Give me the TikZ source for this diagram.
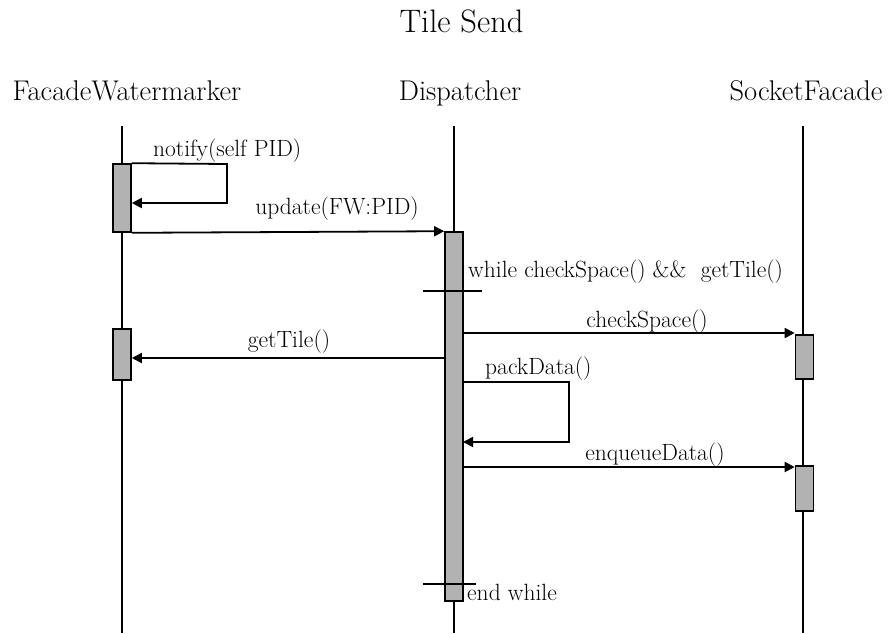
\documentclass[tikz,border=0pt]{standalone}
\usetikzlibrary{arrows.meta}
\begin{document}
\begin{tikzpicture}[x=1pt,y=-1pt,
  titletext/.style={font=\fontsize{32.5}{35}\selectfont, anchor=base, inner sep=0pt},
  head/.style={font=\fontsize{28.5}{31}\selectfont, anchor=base, inner sep=0pt},
  msg/.style={font=\fontsize{23.5}{26}\selectfont, anchor=base, inner sep=0pt},
  life/.style={line width=1.5pt},
  act/.style={draw, line width=1.6pt, fill=gray!60, minimum width=18pt, inner sep=0pt},
  call/.style={line width=1.8pt, -{Triangle[length=10pt,width=10pt]}},
  guard/.style={line width=1.4pt}]
\useasboundingbox (0,0) rectangle (889,633);

% title and participants
\node[titletext] (title) at (461.5,32) {Tile Send};
\node[head] (fw) at (127,100) {FacadeWatermarker};
\node[head] (dp) at (460,100) {Dispatcher};
\node[head] (sf) at (806,100) {SocketFacade};

% lifelines
\coordinate (fwtop) at (122,126);  \coordinate (fwbot) at (122,633);
\coordinate (dptop) at (454,126);  \coordinate (dpbot) at (454,633);
\coordinate (sftop) at (803,126);  \coordinate (sfbot) at (803,633);
\draw[life] (fwtop) -- (fwbot);
\draw[life] (dptop) -- (dpbot);
\draw[life] (sftop) -- (sfbot);

% activation bars
\node[act, minimum height=68pt]  (fwa) at (122,198) {};
\node[act, minimum height=51pt]  (fwb) at (122,354.5) {};
\node[act, minimum height=369pt] (dpa) at (454,416.5) {};
\node[act, minimum height=44pt]  (sfa) at (804.5,357) {};
\node[act, minimum height=45pt]  (sfb) at (804.5,488.5) {};

% notify(self PID)
\coordinate (n1) at (227,164);
\coordinate (n2) at (227,203);
\draw[call] (fwa.north east) -- (n1) -- (n2) -- (fwa.east |- n2);
\node[msg, anchor=base west] (lnotify) at (153,156) {notify(self PID)};

% update(FW:PID)
\draw[call] (fwa.south east) -- (dpa.north west);
\node[msg] (lupdate) at (337,214) {update(FW:PID)};

% loop guard
\coordinate (w1) at (423,291);
\coordinate (w2) at (482,291);
\draw[guard] (w1) -- (w2);
\node[msg, anchor=base west] (lwhile) at (468,277) {while checkSpace() \&\&~ getTile()};

% checkSpace()
\coordinate (c1) at (463,333);
\draw[call] (c1) -- (sfa.west |- c1);
\node[msg] (lcheck) at (647,327) {checkSpace()};

% getTile()
\coordinate (g1) at (445,358);
\draw[call] (g1) -- (fwb.east |- g1);
\node[msg] (lget) at (289,347) {getTile()};

% packData()
\coordinate (p0) at (463,382);
\coordinate (p1) at (569,382);
\coordinate (p2) at (569,442);
\coordinate (p3) at (463,442);
\draw[call] (p0) -- (p1) -- (p2) -- (p3);
\node[msg, anchor=base west] (lpack) at (485,374) {packData()};

% enqueueData()
\coordinate (e1) at (463,467);
\draw[call] (e1) -- (sfb.west |- e1);
\node[msg] (lenq) at (655,460) {enqueueData()};

% end of loop
\coordinate (x1) at (423,584);
\coordinate (x2) at (476,584);
\draw[guard] (x1) -- (x2);
\node[msg, anchor=base west] (lend) at (467,600) {end while};
\end{tikzpicture}
\end{document}
